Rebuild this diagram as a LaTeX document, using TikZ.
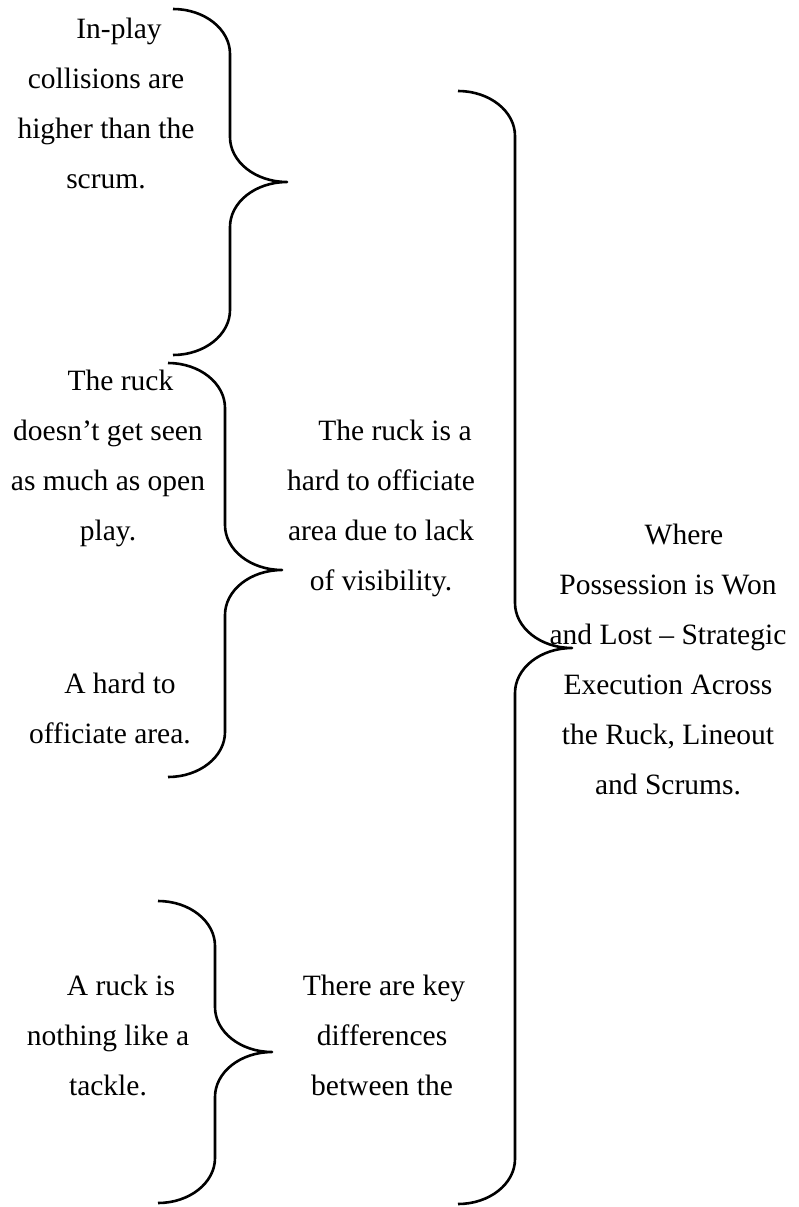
\documentclass[tikz,border=0pt]{standalone}
\usepackage{fontspec}
\setmainfont{Liberation Serif}
\usetikzlibrary{calc}

% Closing curly brace: #1 name, #2 left x, #3 tip x, #4 top y, #5 tip y, #6 bottom y
% (coordinates in pixels, y pointing down); \bry is the vertical radius of the bends
\newcommand{\bry}{45}
\newcommand{\curlybrace}[6]{%
  \coordinate (#1-top) at (#2,#4);
  \coordinate (#1-tip) at (#3,#5);
  \coordinate (#1-bot) at (#2,#6);
  \draw[bracestroke]
    (#1-top) .. controls ({#2+0.5523*(#3-#2)/2},#4) and ({(#2+#3)/2},{#4+\bry-0.5523*\bry}) ..
    ({(#2+#3)/2},{#4+\bry}) -- ({(#2+#3)/2},{#5-\bry})
    .. controls ({(#2+#3)/2},{#5-\bry+0.5523*\bry}) and ({#3-0.5523*(#3-#2)/2},#5) .. (#1-tip)
    .. controls ({#3-0.5523*(#3-#2)/2},#5) and ({(#2+#3)/2},{#5+\bry-0.5523*\bry}) ..
    ({(#2+#3)/2},{#5+\bry}) -- ({(#2+#3)/2},{#6-\bry})
    .. controls ({(#2+#3)/2},{#6-\bry+0.5523*\bry}) and ({#2+0.5523*(#3-#2)/2},#6) .. (#1-bot);
}

\begin{document}
\begin{tikzpicture}[x=1pt,y=-1pt,
  bracestroke/.style={draw=black, line width=2.6pt, line join=round},
  % multi-line texts are placed by the baseline of their last line
  txt/.style={align=center, inner sep=0pt, anchor=base,
    font=\fontsize{29.5}{50}\selectfont}]
\useasboundingbox (0,0) rectangle (798,1207);

% braces
\curlybrace{collbrace}{173}{287}{9}{182}{355}
\curlybrace{ruckbrace}{168}{282}{363}{570}{777}
\curlybrace{tacklebrace}{158}{272}{901}{1052}{1203}
\curlybrace{mainbrace}{458}{572}{91}{648}{1204}

% texts
\node[txt] (inplay) at (106,188)
  {\hspace*{26pt}In-play\\collisions are\\higher than the\\scrum.};
\node[txt] (seen) at (108,540)
  {\hspace*{25pt}The ruck\\doesn’t get seen\\as much as open\\play.};
\node[txt] (hardarea) at (110,743)
  {\hspace*{20pt}A hard to\\officiate area.};
\node[txt] (visibility) at (381,590)
  {\hspace*{28pt}The ruck is a\\hard to officiate\\area due to lack\\of visibility.};
\node[txt] (possession) at (668,794)
  {\hspace*{32pt}Where\\Possession is Won\\and Lost – Strategic\\Execution Across\\the Ruck, Lineout\\and Scrums.};
\node[txt] (tackle) at (108,1095)
  {\hspace*{26pt}A ruck is\\nothing like a\\tackle.};
\node[txt] (differences) at (382,1095)
  {\hspace*{4pt}There are key\\differences\hspace*{18pt}\\between the};
\end{tikzpicture}
\end{document}
